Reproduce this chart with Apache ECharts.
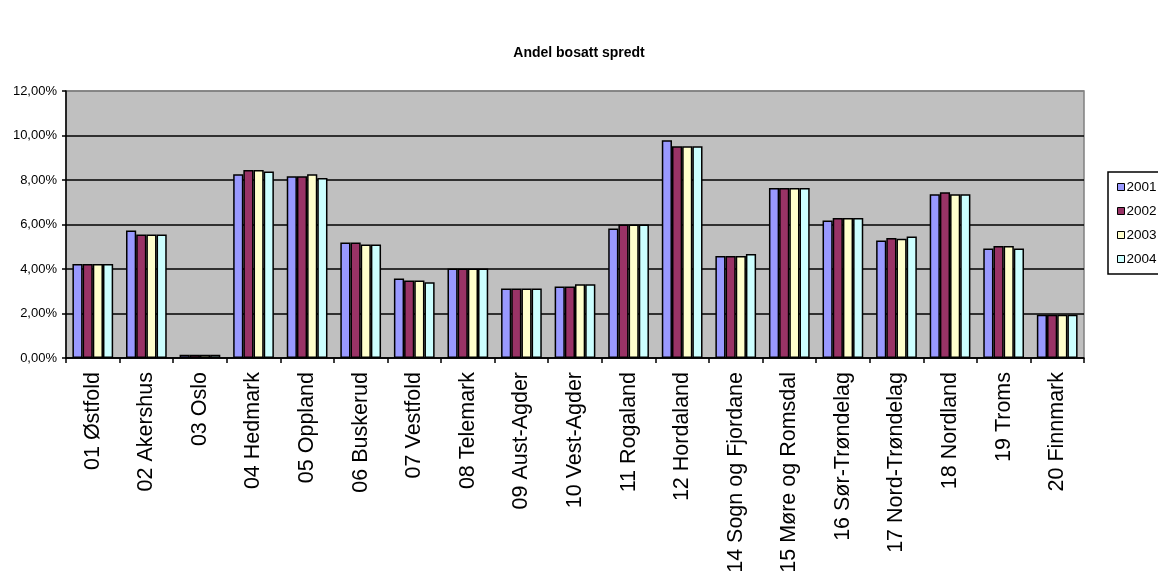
<!DOCTYPE html>
<html>
<head>
<meta charset="utf-8">
<script src="https://cdn.jsdelivr.net/npm/echarts@6/dist/echarts.min.js"></script>
<style>
  html, body { margin: 0; padding: 0; background: #fff; }
  #chart { width: 1158px; height: 571px; }
</style>
</head>
<body>
<div id="chart"></div>
<script>
// Share of population living scattered (outside settlements), by county, in percent
const fylker = [
  '01 Østfold', '02 Akershus', '03 Oslo', '04 Hedmark', '05 Oppland',
  '06 Buskerud', '07 Vestfold', '08 Telemark', '09 Aust-Agder', '10 Vest-Agder',
  '11 Rogaland', '12 Hordaland', '14 Sogn og Fjordane', '15 Møre og Romsdal',
  '16 Sør-Trøndelag', '17 Nord-Trøndelag', '18 Nordland', '19 Troms', '20 Finnmark'
];
const years = ['2001', '2002', '2003', '2004'];
const v2001 = [4.22, 5.73, 0.15, 8.26, 8.17, 5.19, 3.57, 4.02, 3.12, 3.21, 5.82, 9.79, 4.58, 7.64, 6.18, 5.28, 7.36, 4.92, 1.94];
const v2002 = [4.22, 5.55, 0.15, 8.45, 8.17, 5.19, 3.48, 4.02, 3.12, 3.21, 6.00, 9.52, 4.58, 7.64, 6.29, 5.39, 7.45, 5.03, 1.94];
const v2003 = [4.22, 5.55, 0.15, 8.45, 8.26, 5.10, 3.48, 4.02, 3.12, 3.32, 6.00, 9.52, 4.58, 7.64, 6.29, 5.36, 7.36, 5.03, 1.94];
const v2004 = [4.22, 5.55, 0.15, 8.38, 8.09, 5.10, 3.41, 4.02, 3.12, 3.32, 6.00, 9.52, 4.67, 7.64, 6.29, 5.46, 7.36, 4.92, 1.94];
const yTicks = { min: 0, max: 12, step: 2 };

const seriesValues = [v2001, v2002, v2003, v2004];
const colors = ['#9999FF', '#993366', '#FFFFCC', '#CCFFFF'];
const FONT = 'Arial, "Liberation Sans", sans-serif';

const chart = echarts.init(document.getElementById('chart'), null, { renderer: 'canvas' });

chart.setOption({
  backgroundColor: '#ffffff',
  animation: false,
  title: {
    text: 'Andel bosatt spredt',
    left: 'center',
    top: 41,
    textStyle: { fontFamily: FONT, fontSize: 14, fontWeight: 'bold', color: '#000' }
  },
  legend: {
    orient: 'vertical',
    left: 1108,
    top: 172,
    data: years,
    icon: 'rect',
    itemWidth: 7,
    itemHeight: 7,
    itemGap: 10,
    padding: [8, 18, 8, 9],
    borderColor: '#000',
    borderWidth: 1.5,
    textStyle: { fontFamily: FONT, fontSize: 13.5, color: '#000', padding: [0, 0, 0, -3] },
    itemStyle: { borderColor: '#000', borderWidth: 1 }
  },
  grid: {
    left: 66,
    right: 74,
    top: 91,
    bottom: 213,
    outerBoundsMode: 'none',
    show: true,
    backgroundColor: '#C0C0C0',
    borderColor: '#808080',
    borderWidth: 1.5
  },
  xAxis: {
    type: 'category',
    data: fylker,
    boundaryGap: true,
    axisLine: { show: true, lineStyle: { color: '#000', width: 1.5 } },
    axisTick: { show: true, length: 5, lineStyle: { color: '#000', width: 1.5 } },
    axisLabel: {
      rotate: 90,
      margin: 14,
      interval: 0,
      fontFamily: FONT,
      fontSize: 21.5,
      color: '#000'
    },
    splitLine: { show: false }
  },
  yAxis: {
    type: 'value',
    min: yTicks.min,
    max: yTicks.max,
    interval: yTicks.step,
    axisLine: { show: true, lineStyle: { color: '#000', width: 1.5 } },
    axisTick: { show: true, length: 4, lineStyle: { color: '#000', width: 1.5 } },
    axisLabel: {
      margin: 9,
      fontFamily: FONT,
      fontSize: 13,
      color: '#000',
      formatter: v => v.toFixed(2).replace('.', ',') + '%'
    },
    splitLine: {
      show: true,
      lineStyle: {
        color: ['#000', '#000', '#000', '#000', '#000', '#000', '#808080'],
        width: 1.5
      }
    }
  },
  series: seriesValues.map((vals, i) => ({
    name: years[i],
    type: 'bar',
    data: vals,
    barGap: '0%',
    barCategoryGap: '24%',
    itemStyle: { color: colors[i], borderColor: '#000', borderWidth: 1.5 }
  }))
});
</script>
</body>
</html>
